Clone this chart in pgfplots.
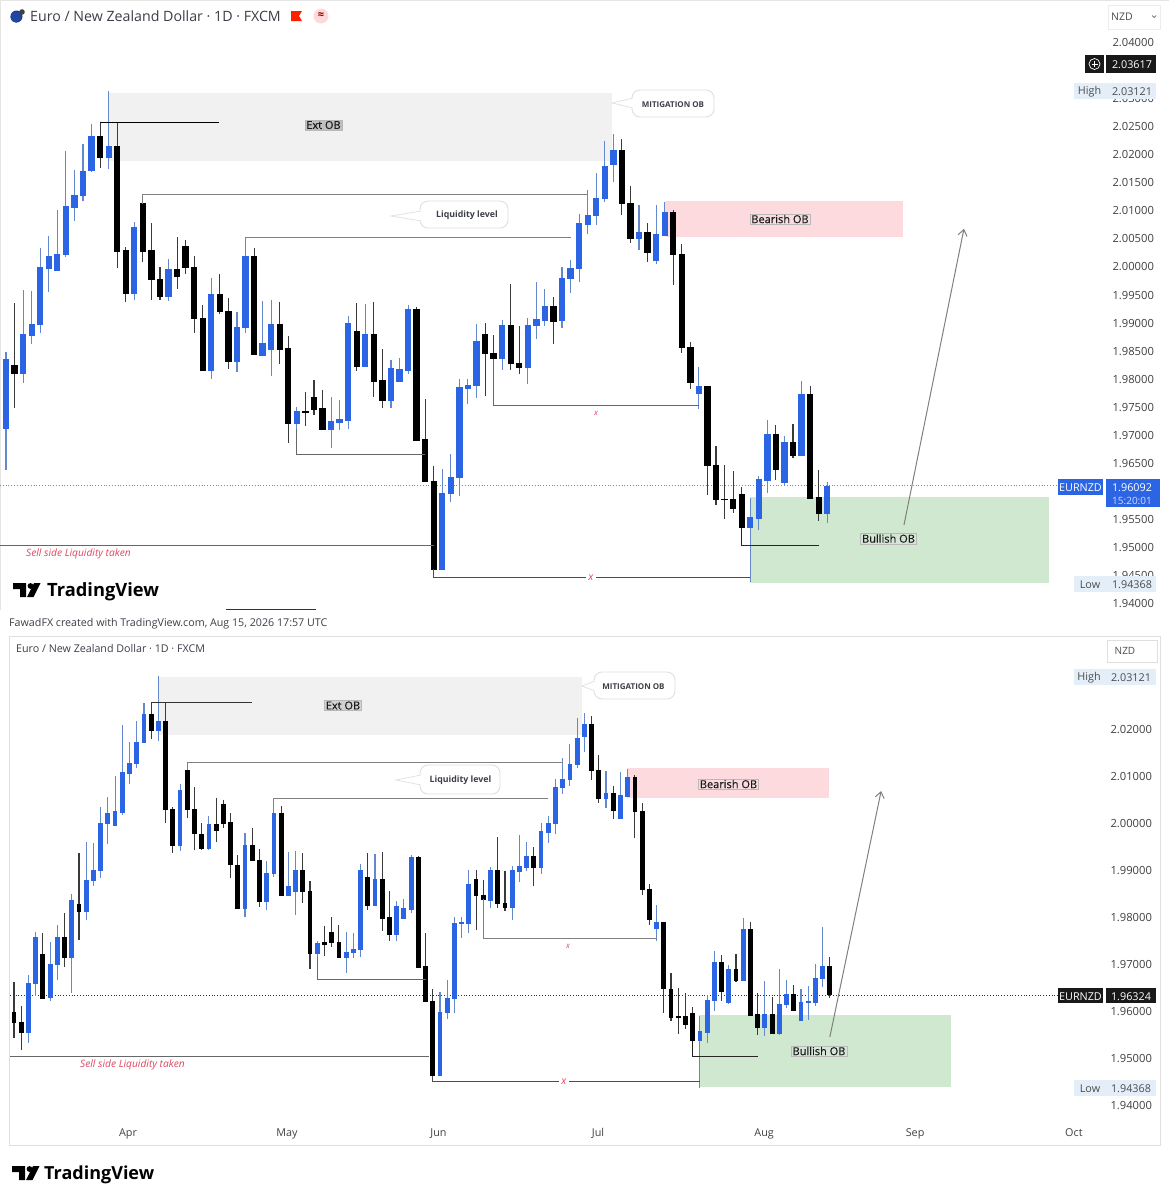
\documentclass[border=0pt]{standalone}
\usepackage{fontspec}
\setmainfont{Open Sans}
\usepackage{pgfplots}
\usepackage{pgfplotstable}
\pgfplotsset{compat=1.18}
\usetikzlibrary{arrows.meta}
\definecolor{cblue}{HTML}{2B65E3}
\definecolor{wblue}{HTML}{6488CC}
\definecolor{wblack}{HTML}{3A3A3A}
\definecolor{zgray}{HTML}{F1F1F1}
\definecolor{zpink}{HTML}{FCDADD}
\definecolor{zgreen}{HTML}{CFE8CF}
\definecolor{lgray}{HTML}{808080}
\definecolor{rtxt}{HTML}{E0455F}
\definecolor{ttxt}{HTML}{3C3F48}
\definecolor{hbox}{HTML}{E4EEF9}
\definecolor{tagpink}{HTML}{F8DCDF}
\definecolor{taggreen}{HTML}{D6E6D6}
% i low bodybottom bodytop high
\pgfplotstableread{
i l b t h
0 1.9637 1.9711 1.9834 1.9848
2 1.9793 1.9809 1.9878 1.9958
3 1.9862 1.9876 1.9897 1.9957
4 1.9881 1.9897 1.9998 2.0032
5 1.9954 1.9996 2.0018 2.0054
6 1.9993 1.9993 2.0022 2.0100
7 2.0016 2.0021 2.0106 2.0206
8 2.0081 2.0105 2.0127 2.0172
9 2.0117 2.0126 2.0170 2.0218
10 2.0169 2.0170 2.0231 2.0254
12 2.0173 2.0194 2.0214 2.0312
15 1.9941 1.9951 2.0070 2.0080
19 1.9939 1.9947 1.9994 2.0014
24 1.9800 1.9815 1.9950 1.9980
27 1.9812 1.9830 1.9892 1.9918
28 1.9881 1.9891 2.0018 2.0053
30 1.9842 1.9842 1.9863 1.9939
31 1.9805 1.9852 1.9897 1.9940
34 1.9711 1.9720 1.9742 1.9750
38 1.9677 1.9709 1.9723 1.9768
39 1.9709 1.9721 1.9728 1.9762
40 1.9711 1.9726 1.9898 1.9911
42 1.9822 1.9822 1.9879 1.9933
45 1.9747 1.9761 1.9819 1.9834
46 1.9794 1.9794 1.9816 1.9836
47 1.9809 1.9815 1.9924 1.9931
51 1.9460 1.9460 1.9596 1.9638
52 1.9580 1.9595 1.9624 1.9665
53 1.9591 1.9623 1.9784 1.9800
54 1.9754 1.9782 1.9788 1.9800
55 1.9765 1.9787 1.9867 1.9897
58 1.9815 1.9835 1.9895 1.9905
61 1.9790 1.9820 1.9895 1.9908
62 1.9871 1.9894 1.9905 1.9973
63 1.9894 1.9904 1.9928 1.9959
65 1.9890 1.9903 1.9978 1.9999
66 1.9953 1.9978 1.9997 2.0011
67 1.9973 1.9996 2.0077 2.0094
68 2.0057 2.0075 2.0091 2.0137
69 2.0074 2.0090 2.0122 2.0166
70 2.0114 2.0121 2.0179 2.0223
71 2.0151 2.0181 2.0206 2.0236
74 2.0029 2.0049 2.0061 2.0109
76 2.0005 2.0010 2.0057 2.0109
77 2.0055 2.0055 2.0096 2.0114
81 1.9745 1.9773 1.9786 1.9821
87 1.9437 1.9534 1.9552 1.9588
88 1.9530 1.9551 1.9620 1.9626
89 1.9596 1.9619 1.9701 1.9726
91 1.9609 1.9615 1.9686 1.9698
93 1.9663 1.9663 1.9771 1.9795
96 1.9543 1.9560 1.9607 1.9615
}\topUp
\pgfplotstableread{
i l b t h
1 1.9748 1.9809 1.9824 1.9934
11 2.0176 2.0194 2.0231 2.0255
13 1.9998 2.0027 2.0214 2.0255
14 1.9937 1.9951 2.0029 2.0035
16 2.0007 2.0027 2.0112 2.0127
17 1.9941 1.9976 2.0028 2.0078
18 1.9940 1.9947 1.9976 1.9999
20 1.9959 1.9982 1.9994 2.0052
21 1.9986 1.9998 2.0035 2.0047
22 1.9881 1.9907 1.9999 2.0018
23 1.9815 1.9815 1.9908 1.9931
25 1.9916 1.9919 1.9950 1.9987
26 1.9818 1.9830 1.9920 1.9943
29 1.9842 1.9842 2.0018 2.0033
32 1.9826 1.9852 1.9897 1.9937
33 1.9686 1.9720 1.9853 1.9876
35 1.9715 1.9739 1.9742 1.9776
36 1.9735 1.9745 1.9766 1.9797
37 1.9710 1.9710 1.9746 1.9779
41 1.9813 1.9822 1.9884 1.9935
43 1.9768 1.9795 1.9879 1.9936
44 1.9748 1.9761 1.9796 1.9852
48 1.9690 1.9690 1.9924 1.9928
49 1.9616 1.9616 1.9692 1.9763
50 1.9460 1.9460 1.9617 1.9644
56 1.9769 1.9844 1.9879 1.9899
57 1.9753 1.9835 1.9844 1.9877
59 1.9815 1.9827 1.9895 1.9969
60 1.9808 1.9820 1.9828 1.9893
64 1.9861 1.9902 1.9928 1.9946
72 2.0092 2.0112 2.0206 2.0227
73 2.0041 2.0049 2.0112 2.0144
75 2.0007 2.0024 2.0061 2.0077
78 1.9967 2.0021 2.0096 2.0100
79 1.9845 1.9855 2.0022 2.0040
80 1.9781 1.9793 1.9856 1.9866
82 1.9593 1.9645 1.9786 1.9786
83 1.9575 1.9584 1.9645 1.9680
84 1.9549 1.9584 1.9585 1.9646
85 1.9560 1.9569 1.9585 1.9636
86 1.9502 1.9534 1.9593 1.9606
90 1.9619 1.9638 1.9701 1.9717
92 1.9658 1.9663 1.9686 1.9719
94 1.9587 1.9587 1.9771 1.9787
95 1.9547 1.9560 1.9588 1.9637
}\topDn
\pgfplotstableread{
i l b t h
2 1.9533 1.9554 1.9659 1.9676
3 1.9632 1.9659 1.9757 1.9769
5 1.9622 1.9629 1.9699 1.9746
6 1.9666 1.9698 1.9757 1.9784
8 1.9639 1.9714 1.9836 1.9849
10 1.9794 1.9811 1.9879 1.9959
11 1.9865 1.9877 1.9900 1.9958
12 1.9882 1.9898 1.9999 2.0035
13 1.9955 1.9998 2.0020 2.0055
14 1.9994 1.9994 2.0024 2.0099
15 2.0017 2.0022 2.0107 2.0209
16 2.0084 2.0105 2.0128 2.0173
17 2.0118 2.0127 2.0172 2.0218
18 2.0170 2.0171 2.0231 2.0255
20 2.0175 2.0196 2.0216 2.0312
23 1.9941 1.9951 2.0070 2.0082
27 1.9943 1.9946 1.9997 2.0014
32 1.9801 1.9817 1.9952 1.9978
35 1.9815 1.9833 1.9894 1.9919
36 1.9885 1.9893 2.0021 2.0053
38 1.9845 1.9845 1.9865 1.9939
39 1.9805 1.9855 1.9900 1.9941
42 1.9716 1.9723 1.9744 1.9749
46 1.9681 1.9713 1.9725 1.9769
47 1.9713 1.9725 1.9731 1.9766
48 1.9715 1.9730 1.9900 1.9913
50 1.9825 1.9825 1.9881 1.9935
53 1.9750 1.9762 1.9822 1.9835
54 1.9796 1.9796 1.9818 1.9838
55 1.9809 1.9816 1.9927 1.9933
59 1.9462 1.9462 1.9597 1.9640
60 1.9584 1.9597 1.9626 1.9666
61 1.9595 1.9626 1.9787 1.9801
62 1.9755 1.9786 1.9789 1.9801
63 1.9767 1.9787 1.9870 1.9899
66 1.9819 1.9836 1.9899 1.9907
69 1.9794 1.9821 1.9899 1.9909
70 1.9875 1.9897 1.9907 1.9975
71 1.9897 1.9906 1.9929 1.9959
73 1.9891 1.9905 1.9982 1.9999
74 1.9957 1.9980 1.9999 2.0015
75 1.9976 1.9998 2.0076 2.0094
76 2.0061 2.0075 2.0093 2.0138
77 2.0078 2.0092 2.0125 2.0168
78 2.0117 2.0124 2.0180 2.0223
79 2.0152 2.0183 2.0209 2.0235
82 2.0032 2.0051 2.0063 2.0111
84 2.0009 2.0010 2.0059 2.0109
85 2.0057 2.0057 2.0098 2.0115
89 1.9748 1.9775 1.9789 1.9825
95 1.9437 1.9537 1.9556 1.9590
96 1.9533 1.9554 1.9622 1.9635
97 1.9601 1.9622 1.9704 1.9727
99 1.9616 1.9617 1.9689 1.9698
101 1.9664 1.9664 1.9774 1.9798
104 1.9546 1.9564 1.9593 1.9664
106 1.9549 1.9551 1.9615 1.9689
107 1.9606 1.9613 1.9636 1.9666
109 1.9580 1.9580 1.9618 1.9647
110 1.9581 1.9617 1.9620 1.9654
111 1.9610 1.9618 1.9669 1.9700
112 1.9652 1.9668 1.9695 1.9778
}\botUp
\pgfplotstableread{
i l b t h
0 1.9542 1.9575 1.9597 1.9661
1 1.9517 1.9554 1.9576 1.9611
4 1.9627 1.9627 1.9721 1.9765
7 1.9693 1.9714 1.9757 1.9809
9 1.9751 1.9811 1.9826 1.9936
19 2.0179 2.0196 2.0231 2.0255
21 1.9999 2.0029 2.0216 2.0255
22 1.9937 1.9951 2.0030 2.0035
24 2.0010 2.0029 2.0113 2.0127
25 1.9943 1.9977 2.0030 2.0077
26 1.9943 1.9946 1.9977 2.0001
28 1.9960 1.9984 1.9997 2.0053
29 1.9989 1.9999 2.0039 2.0048
30 1.9884 1.9911 2.0001 2.0021
31 1.9817 1.9817 1.9911 1.9932
33 1.9919 1.9919 1.9952 1.9989
34 1.9821 1.9833 1.9920 1.9944
37 1.9845 1.9845 2.0021 2.0036
40 1.9829 1.9855 1.9900 1.9937
41 1.9689 1.9723 1.9855 1.9877
43 1.9718 1.9742 1.9745 1.9780
44 1.9737 1.9746 1.9768 1.9800
45 1.9713 1.9713 1.9746 1.9782
49 1.9815 1.9825 1.9885 1.9937
51 1.9771 1.9797 1.9881 1.9939
52 1.9749 1.9762 1.9799 1.9855
56 1.9693 1.9693 1.9927 1.9930
57 1.9620 1.9620 1.9694 1.9765
58 1.9462 1.9462 1.9620 1.9647
64 1.9773 1.9845 1.9881 1.9900
65 1.9755 1.9838 1.9846 1.9879
67 1.9819 1.9829 1.9899 1.9970
68 1.9813 1.9821 1.9830 1.9897
72 1.9865 1.9905 1.9929 1.9948
80 2.0092 2.0112 2.0209 2.0228
81 2.0042 2.0051 2.0113 2.0145
83 2.0009 2.0026 2.0063 2.0078
86 1.9969 2.0024 2.0098 2.0102
87 1.9847 1.9858 2.0024 2.0042
88 1.9782 1.9794 1.9858 1.9870
90 1.9596 1.9647 1.9789 1.9789
91 1.9579 1.9587 1.9647 1.9681
92 1.9552 1.9587 1.9588 1.9649
93 1.9562 1.9571 1.9588 1.9638
94 1.9505 1.9537 1.9596 1.9608
98 1.9622 1.9641 1.9704 1.9720
100 1.9661 1.9664 1.9689 1.9722
102 1.9591 1.9591 1.9774 1.9790
103 1.9549 1.9564 1.9592 1.9638
105 1.9553 1.9553 1.9593 1.9629
108 1.9601 1.9601 1.9636 1.9656
113 1.9627 1.9635 1.9695 1.9716
}\botDn
% one candle series: table, wick colour, body colour, body width
\newcommand\candles[4]{%
 \addplot[draw=none,mark=none,forget plot,error bars/.cd,y dir=both,y explicit,error mark=none,
   error bar style={line width=1.1pt,color=#2}]
   table[x=i,y expr={(\thisrow{b}+\thisrow{t})/2},
     y error plus expr={\thisrow{h}-(\thisrow{b}+\thisrow{t})/2},
     y error minus expr={(\thisrow{b}+\thisrow{t})/2-\thisrow{l}}]{#1};
 \addplot[draw=none,mark=none,forget plot,error bars/.cd,y dir=both,y explicit,error mark=none,
   error bar style={line width=#4,color=#3}]
   table[x=i,y expr={(\thisrow{b}+\thisrow{t})/2},
     y error plus expr={(\thisrow{t}-\thisrow{b})/2+0.00008},
     y error minus expr={(\thisrow{t}-\thisrow{b})/2+0.00008}]{#1};
}
\newcommand\zone[5]{\addplot[fill=#5,draw=none,forget plot] coordinates {(#1,#3)(#2,#3)(#2,#4)(#1,#4)} --cycle;}
\newcommand\tvlogo[2]{\begin{scope}[shift={(#1,#2)}]
 \fill[black] (0,0)--(13,0)--(13,14)--(7,14)--(7,6)--(0,6)--cycle;
 \fill[black] (17.5,3) circle (2.9);
 \fill[black] (21,0)--(27.5,0)--(20.5,14)--(14,14)--cycle;
 \end{scope}}
\newcommand\callout[8]{% x0 y0 x1 y1 tipx tipy textcentre-x text
 \draw[draw=gray!25,fill=white,line width=.7pt] (#1+1,#6-5)--(#5,#6)--(#1+1,#6+5);
 \draw[draw=gray!25,fill=white,rounded corners=8,line width=.9pt] (#1,#2) rectangle (#3,#4);
 \fill[white] (#1-0.6,#6-4) rectangle (#1+1.5,#6+4);
 \node[text=ttxt,font=\bfseries\fontsize{8.8}{10}\selectfont] at (#7,{(#2+#4)/2+0.8}) {#8};}
\newcommand\tagbox[4]{\node[fill=#4,draw=gray!55,line width=.4pt,inner xsep=1.5pt,inner ysep=1pt,text=black!90,font=\fontsize{11}{12}\selectfont\addfontfeature{FakeBold=0.25}] at (#1,#2) {#3};}
\newcommand\lab[4]{\node[text=#4,font=\fontsize{10.8}{12}\selectfont] at (#1,#2+0.8) {#3};}
\pgfplotsset{chart/.style={scale only axis,anchor=south west,clip=true,
  axis line style={draw=none},major tick length=0pt,ymajorgrids=false,
  yticklabel pos=right,
  y tick label style={text=black!75,font=\fontsize{11.2}{13}\selectfont,anchor=west,
     /pgf/number format/fixed,/pgf/number format/fixed zerofill,/pgf/number format/precision=5,/pgf/number format/assume math mode=true},
  }}
\begin{document}
\begin{tikzpicture}[x=1pt,y=-1pt]
\path[use as bounding box,fill=white] (0,0) rectangle (1169,1200);
\draw[gray!20,line width=1.4pt] (0.5,0)--(0.5,610);
\draw[gray!20,line width=.7pt] (0,0.5)--(1169,0.5);
\draw[gray!25,line width=.7pt] (9,636) rectangle (1160,1145);
% TOP PANEL
\begin{axis}[chart,at={(0pt,-610pt)},width=1104pt,height=610pt,
  xmin=-0.701,xmax=128.35,ymin=1.93875,ymax=2.04749,
  xtick=\empty,
  ytick={1.94,1.945,1.95,1.955,1.965,1.97,1.975,1.98,1.985,1.99,1.995,2.0,2.005,2.01,2.015,2.02,2.025,2.03,2.04},
  y tick label style={xshift=5pt,yshift=-0.6pt}]
\zone{11.92}{70.84}{2.0309}{2.0188}{zgray}
\zone{77.03}{104.85}{2.0117}{2.0052}{zpink}
\zone{86.97}{121.9}{1.9589}{1.9436}{zgreen}
\addplot[draw=lgray!40!cyan!30!gray,dotted,line width=.8pt,forget plot] coordinates {(-0.7,1.96092)(123.0,1.96092)};
\candles{\topUp}{wblue}{cblue}{6.3pt}
\candles{\topDn}{wblack}{black}{6.3pt}
\addplot[black,line width=1pt,forget plot] coordinates {(11,2.0256)(24.9,2.0256)};
\addplot[lgray,line width=.8pt,forget plot] coordinates {(16,2.0112)(16,2.0129)(67.9,2.0129)};
\addplot[lgray,line width=.8pt,forget plot] coordinates {(28,2.0053)(28,2.0052)(66,2.0052)};
\addplot[lgray!80!black,line width=.9pt,forget plot] coordinates {(34,1.9711)(34,1.9664)(49,1.9664)};
\addplot[lgray!80!black,line width=.9pt,forget plot] coordinates {(57,1.9835)(57,1.9753)(81,1.9753)};
\addplot[lgray!80!black,line width=.9pt,forget plot] coordinates {(-0.7,1.9502)(50,1.9502)};
\addplot[lgray!60!black,line width=1pt,forget plot] coordinates {(50,1.9460)(50,1.9445)(87,1.9445)};
\addplot[black!85,line width=1pt,forget plot] coordinates {(86,1.9534)(86,1.9502)(95,1.9502)};
\addplot[lgray,line width=1pt,-{Straight Barb[length=6pt,width=9pt]},forget plot] coordinates {(104.97,1.9539)(111.98,2.0067)};
\end{axis}
% BOTTOM PANEL
\begin{axis}[chart,at={(10pt,-1120pt)},width=1094pt,height=484pt,
  xmin=-0.554,xmax=150.97,ymin=1.93681,ymax=2.03979,
  xtick={15.8,37.8,58.8,80.9,103.9,124.8,146.8},
  xticklabels={Apr,May,Jun,Jul,Aug,Sep,Oct},
  x tick label style={text=black!75,font=\fontsize{10.8}{13}\selectfont,yshift=-5pt},
  ytick={1.94,1.95,1.96,1.97,1.98,1.99,2.0,2.01,2.02},
  y tick label style={xshift=3pt}]
\zone{19.94}{78.67}{2.0311}{2.0187}{zgray}
\zone{84.9}{112.9}{2.0117}{2.0053}{zpink}
\zone{94.9}{129.8}{1.9591}{1.9438}{zgreen}
\addplot[black!80,dotted,line width=.8pt,forget plot] coordinates {(-0.55,1.96324)(144.6,1.96324)};
\candles{\botUp}{wblue}{cblue}{4.8pt}
\candles{\botDn}{wblack}{black}{4.8pt}
\addplot[black!80,line width=1pt,forget plot] coordinates {(19,2.0257)(33,2.0257)};
\addplot[lgray,line width=.8pt,forget plot] coordinates {(24,2.0113)(24,2.0128)(76,2.0128)};
\addplot[lgray,line width=.8pt,forget plot] coordinates {(36,2.0053)(74,2.0053)};
\addplot[lgray!80!black,line width=.9pt,forget plot] coordinates {(42,1.9716)(42,1.9668)(57,1.9668)};
\addplot[lgray,line width=.9pt,forget plot] coordinates {(65,1.9838)(65,1.9755)(89,1.9755)};
\addplot[lgray!80!black,line width=.8pt,forget plot] coordinates {(-0.55,1.9504)(57.5,1.9504)};
\addplot[lgray!60!black,line width=1pt,forget plot] coordinates {(58,1.9462)(58,1.9449)(95,1.9449)};
\addplot[black!85,line width=1pt,forget plot] coordinates {(94,1.9537)(94,1.9504)(103,1.9504)};
\addplot[lgray,line width=1pt,-{Straight Barb[length=6pt,width=9pt]},forget plot] coordinates {(113.0,1.9545)(120.1,2.0068)};
\end{axis}
% TOP: header and labels
\fill[hbox!30!blue!60!black] (16.5,16.5) circle (6);
\fill[cblue!70!black] (16,17) circle (5.6);
\fill[black!75] (22,12) circle (2.8);
\node[anchor=west,text=ttxt,font=\fontsize{14.2}{16}\selectfont,inner sep=0] at (30,16) {Euro / New Zealand Dollar · 1D · FXCM};
\fill[red!75!orange] (291,11)--(302,11)--(299,16)--(302,21)--(291,21)--cycle;
\fill[pink!60] (321,16) circle (7.5);
\node[text=red!60!black,font=\bfseries\fontsize{11}{12}\selectfont] at (321,15.5) {≈};
\draw[gray!15,fill=white] (1108,5) rectangle (1160,29);
\node[text=black!70,font=\fontsize{10.5}{12}\selectfont] at (1122,16.8) {NZD};
\draw[black!60,line width=.7pt] (1152,15.5)--(1154,17.5)--(1156,15.5);
\fill[black!90] (1085,55) rectangle (1104,73);
\draw[white,line width=.7pt] (1094.5,64) circle (5.5);
\draw[white,line width=.7pt] (1091.5,64)--(1097.5,64) (1094.5,61)--(1094.5,67);
\fill[black!90] (1106,55) rectangle (1156,73);
\lab{1132}{64}{2.03617}{white}
\fill[hbox] (1074,83) rectangle (1156,99);
\lab{1089.5}{91}{High}{black!70}
\lab{1132}{91}{2.03121}{black!70}
\fill[cblue] (1058,479) rectangle (1103,495);
\lab{1080.5}{487}{EURNZD}{white}
\fill[cblue] (1106,479) rectangle (1160,507);
\lab{1132}{487}{1.96092}{white}
\node[text=white!85!blue,font=\fontsize{10}{12}\selectfont] at (1132,500.5) {15:20:01};
\fill[hbox] (1074,576) rectangle (1156,592);
\lab{1090}{584}{Low}{black!70}
\lab{1132}{584}{1.94368}{black!70}
\tagbox{323.5}{125}{Ext OB}{gray!50}
\tagbox{780}{219}{Bearish OB}{tagpink}
\tagbox{888.5}{538.5}{Bullish OB}{taggreen}
\callout{632}{90}{714}{117}{612}{103}{673}{\fontsize{8}{10}\selectfont MITIGATION OB}
\callout{420}{201}{508}{228}{391}{216}{467}{Liquidity level}
\node[text=rtxt,font=\itshape\fontsize{10.2}{11}\selectfont] at (78.5,553.5) {Sell side Liquidity taken};
\node[text=rtxt,font=\itshape\fontsize{8}{9}\selectfont] at (596,413.5) {x};
\node[fill=white,text=rtxt,inner xsep=2pt,inner ysep=0pt,font=\itshape\fontsize{10.5}{11}\selectfont] at (591,578) {x};
\tvlogo{13}{583}
\node[anchor=west,inner sep=0,text=black,font=\bfseries\fontsize{18.3}{22}\selectfont] at (47,591.5) {TradingView};
\draw[black!80,line width=.8pt] (226,609)--(316,609);
\node[anchor=west,inner sep=0,text=ttxt,font=\fontsize{10.7}{12}\selectfont] at (9,624) {FawadFX created with TradingView.com, Aug 15, 2026 17:57 UTC};
% BOTTOM: header and labels
\node[anchor=west,inner sep=0,text=ttxt,font=\fontsize{10.7}{12}\selectfont] at (16,648.5) {Euro / New Zealand Dollar · 1D · FXCM};
\draw[gray!25,fill=white] (1107,640) rectangle (1157,662);
\node[text=black!70,font=\fontsize{10}{12}\selectfont] at (1125,651) {NZD};
\fill[hbox] (1074,669) rectangle (1156,685);
\lab{1089}{677}{High}{black!70}
\lab{1131}{677}{2.03121}{black!70}
\fill[black!90] (1058,988) rectangle (1103,1003);
\lab{1080.5}{995.5}{EURNZD}{white}
\fill[black!90] (1106,988) rectangle (1156,1003);
\lab{1131}{995.5}{1.96324}{white}
\fill[hbox] (1074,1080) rectangle (1156,1096);
\lab{1090}{1088}{Low}{black!70}
\lab{1131}{1088}{1.94368}{black!70}
\tagbox{343}{705.5}{Ext OB}{gray!35}
\tagbox{728.5}{784}{Bearish OB}{tagpink}
\tagbox{819}{1051}{Bullish OB}{taggreen}
\callout{594}{672}{675}{699}{582}{686}{633.5}{\fontsize{8}{10}\selectfont MITIGATION OB}
\callout{420}{765}{500}{794}{396}{780}{460.5}{Liquidity level}
\node[text=rtxt,font=\itshape\fontsize{10.2}{11}\selectfont] at (132.5,1064.5) {Sell side Liquidity taken};
\node[text=rtxt,font=\itshape\fontsize{8}{9}\selectfont] at (568,946.5) {x};
\node[fill=white,text=rtxt,inner xsep=2pt,inner ysep=0pt,font=\itshape\fontsize{10.5}{11}\selectfont] at (564,1082) {x};
\tvlogo{12}{1166}
\node[anchor=west,inner sep=0,text=black,font=\bfseries\fontsize{18}{22}\selectfont] at (44,1174.5) {TradingView};
\end{tikzpicture}
\end{document}
